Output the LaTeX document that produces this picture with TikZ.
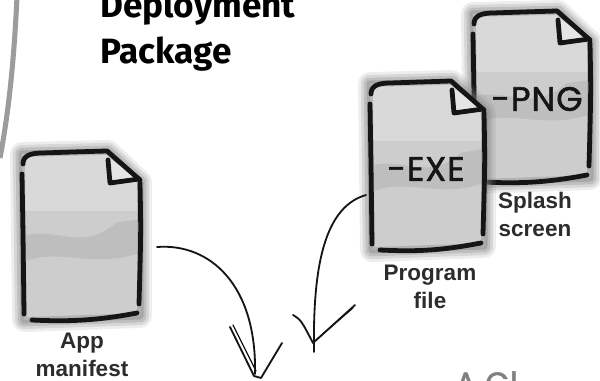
\documentclass[tikz,border=0pt]{standalone}
\usepackage{fontspec}
\setmainfont{Liberation Sans}
\newfontfamily\handfont{Fira Sans}
\newfontfamily\markfont{Poppins}[FakeBold=1.6, LetterSpace=3]

\definecolor{frame}{HTML}{9A9CA0}
\definecolor{ink}{HTML}{151515}
\definecolor{paper}{HTML}{CDCDCD}
\definecolor{blot}{HTML}{B4B4B4}

\tikzset{
  stroke/.style={ink, line width=3.4pt, line cap=round, line join=round},
  pen/.style={ink, line width=1.3pt, line cap=round, line join=round},
  caption/.style={font=\bfseries\fontsize{16}{19.5}\selectfont, align=center,
    inner sep=0pt, anchor=north, text=ink!90},
  ext/.style={font=\markfont\fontsize{24}{24}\selectfont, inner sep=0pt, text=ink},
}

% sheet of paper with a folded corner: #1,#2 top left, #3 width, #4 height
\newcommand\docsheet[4]{%
  \begin{scope}[shift={(#1,#2)}]
    \def\body{(0,2) -- ({#3-32},0) -- (#3,30) -- (#3,{#4-4}) -- (2,#4) -- cycle}
    % soft grey halo
    \foreach \lw/\op in {17/0.14, 13/0.2, 9/0.28, 5/0.38}
      \draw[black!50, line width=\lw pt, opacity=\op, line join=round] \body;
    \fill[paper] \body;
    \begin{scope}
      \clip \body;
      \fill[white, opacity=0.25] (0,0) rectangle (#3,{0.35*#4});
      \fill[blot, opacity=0.6] (0,{0.5*#4}) .. controls ({0.3*#3},{0.44*#4}) and ({0.5*#3},{0.6*#4})
        .. ({0.8*#3},{0.42*#4}) -- (#3,{0.4*#4}) -- (#3,{0.6*#4})
        .. controls ({0.6*#3},{0.7*#4}) and ({0.3*#3},{0.56*#4}) .. (0,{0.66*#4}) -- cycle;
      \draw[black!40, line width=4pt, opacity=0.5] \body;
    \end{scope}
    \fill[black!10] ({#3-31},6) -- ({#3-29},31) -- (#3,28) -- cycle;
    % pen strokes
    \draw[stroke] (1,12) .. controls (1,4) and (8,1) .. (20,1)
      .. controls (50,0) .. ({#3-33},-1) -- (#3,28);
    \draw[stroke] ({#3-32},8) -- ({#3-30},31) -- ({#3-1},27);
    \draw[stroke] (0,22) .. controls (1,80) .. (2,{#4-6});
    \draw[stroke] (#3,31) .. controls ({#3+1},80) .. ({#3-1},{#4-16});
    \draw[stroke] (10,#4) .. controls (50,{#4+2}) and ({#3-40},#4) .. ({#3-3},{#4-7});
  \end{scope}}

\begin{document}
\begin{tikzpicture}[x=0.025cm, y=-0.025cm]
  \useasboundingbox (0,0) rectangle (600,381);

  % edge of the surrounding frame
  \draw[frame, line width=3.6pt] (17,-3) .. controls (14,60) and (9,110) .. (0,158);

  \node (title) [anchor=north west, inner sep=0pt, align=left,
    font=\handfont\bfseries\fontsize{25}{32.6}\selectfont] at (100,-9) {Deployment\\Package};

  % the three files
  \docsheet{22}{152}{118}{168}
  \docsheet{473}{12}{117}{170}
  \docsheet{370}{82}{114}{168}

  \node (png) [ext] at (537,99) {-PNG};
  \node (exe) [ext] at (426,169) {-EXE};

  \node (manifest) [caption] at (82,333) {App\\manifest};
  \node (program) [caption] at (430,265) {Program\\file};
  \node (splash) [caption] at (535,192) {Splash\\screen};

  \node (next) [anchor=north west, inner sep=0pt, text=black!50,
    font=\markfont\fontsize{22}{22}\selectfont] at (455,371) {A Cl};

  % arrows into the package
  \coordinate (man-out) at (157,247);
  \coordinate (man-tip) at (255,374);
  \coordinate (exe-out) at (366,195);
  \coordinate (exe-tip) at (314,352);

  \draw[pen] (man-out) .. controls (210,243) and (257,285) .. (man-tip);
  \draw[pen] (230,327) -- (254,376) -- (261,378) -- (282,343);
  \draw[pen, line width=0.8pt] (233,325) -- (256,371);

  \draw[pen] (exe-out) .. controls (320,208) and (313,280) .. (exe-tip);
  \draw[pen] (293,315) .. controls (301,320) .. (313,343) -- (355,305);
  \draw[pen, line width=0.8pt] (316,340) -- (353,308);
\end{tikzpicture}
\end{document}
